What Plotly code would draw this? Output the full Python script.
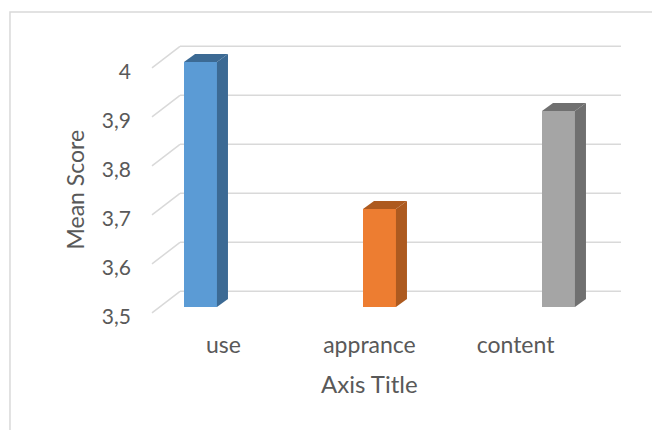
import plotly.graph_objects as go

# Chart data
categories = ["use", "apprance", "content"]
mean_scores = [4.0, 3.7, 3.9]
bar_colors = ["#5B9BD5", "#ED7D31", "#A5A5A5"]
shade_colors = ["#3C6A94", "#AD5A1F", "#707070"]
tick_values = [3.5, 3.6, 3.7, 3.8, 3.9, 4.0]
tick_labels = ["3,5", "3,6", "3,7", "3,8", "3,9", "4"]
base_value = 3.5

# 3-D look parameters (data units)
bar_w = 0.184          # bar front width
depth_x = 0.0615       # bar depth, horizontal shift
depth_y = 0.0163       # bar depth, vertical shift
wall_front_x = -0.271  # front edge of the side wall
wall_back_x = -0.1145  # back edge of the side wall
wall_right_x = 2.349   # right end of the back wall grid
wall_front_dy = -0.012
wall_back_dy = 0.032
label_dy = -0.0204

TEXT = "#595959"
GRID = "#D9D9D9"
FONT = "Lato"

xs = list(range(len(categories)))

fig = go.Figure()

# Front faces of the columns
fig.add_trace(go.Bar(
    x=xs, y=[v - base_value for v in mean_scores], base=base_value,
    width=bar_w, marker=dict(color=bar_colors, line=dict(width=0)),
    showlegend=False, hoverinfo="skip",
))

# Side and top faces of the columns
for x, v, shade in zip(xs, mean_scores, shade_colors):
    r = x + bar_w / 2
    l = x - bar_w / 2
    side_x = [r, r + depth_x, r + depth_x, r, r]
    side_y = [base_value, base_value + depth_y, v + depth_y, v, base_value]
    top_x = [l, l + depth_x, r + depth_x, r, l]
    top_y = [v, v + depth_y, v + depth_y, v, v]
    for px, py in ((side_x, side_y), (top_x, top_y)):
        fig.add_trace(go.Scatter(
            x=px, y=py, mode="lines", fill="toself", fillcolor=shade,
            line=dict(width=0, color=shade), showlegend=False, hoverinfo="skip",
        ))

# Gridlines on the side wall and back wall
shapes = []
for v in tick_values:
    shapes.append(dict(type="line", xref="x", yref="y", layer="below",
                       x0=wall_front_x, y0=v + wall_front_dy,
                       x1=wall_back_x, y1=v + wall_back_dy,
                       line=dict(color=GRID, width=1.5)))
    shapes.append(dict(type="line", xref="x", yref="y", layer="below",
                       x0=wall_back_x, y0=v + wall_back_dy,
                       x1=wall_right_x, y1=v + wall_back_dy,
                       line=dict(color=GRID, width=1.5)))

# Chart area border
shapes.append(dict(type="rect", xref="paper", yref="paper",
                   x0=-0.2917, y0=-0.5, x1=1.2, y1=1.1,
                   line=dict(color=GRID, width=1.5), fillcolor="rgba(0,0,0,0)",
                   layer="below"))

# Category labels sit on the front edge of the floor
label_pos = [0.128 + i * 0.816 for i in xs]

fig.update_layout(
    width=652, height=430,
    margin=dict(l=150, r=22, t=40, b=110),
    paper_bgcolor="white", plot_bgcolor="white",
    font=dict(family=FONT, color=TEXT),
    shapes=shapes,
    xaxis=dict(range=[-0.2821, 2.3995], showgrid=False, zeroline=False,
               showline=False, tickmode="array", tickvals=label_pos,
               ticktext=categories, ticks="", ticklabelstandoff=9,
               tickfont=dict(size=23, color=TEXT, family=FONT)),
    yaxis=dict(range=[3.4735, 4.0449], showgrid=False, zeroline=False,
               showline=False, tickmode="array",
               tickvals=[v + label_dy for v in tick_values],
               ticktext=tick_labels, ticks="", ticklabelstandoff=18,
               tickfont=dict(size=21, color=TEXT, family=FONT)),
    annotations=[
        dict(text="Axis Title", xref="paper", yref="paper",
             x=(369.5 - 150) / 480, y=(320 - 383) / 280,
             xanchor="center", yanchor="middle", showarrow=False,
             font=dict(size=24, color=TEXT, family=FONT)),
        dict(text="Mean Score", xref="paper", yref="paper",
             x=(74.5 - 150) / 480, y=(320 - 190) / 280, textangle=-90,
             xanchor="center", yanchor="middle", showarrow=False,
             font=dict(size=23, color=TEXT, family=FONT)),
    ],
    bargap=0,
)

fig.write_html("out.html")
